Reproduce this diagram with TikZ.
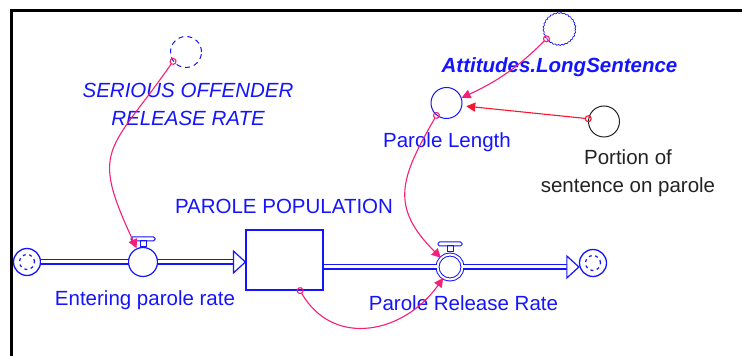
\documentclass[tikz,border=0pt]{standalone}
\usepackage{fontspec}
\setmainfont{Liberation Sans}
\usetikzlibrary{arrows.meta,decorations.pathmorphing}

\definecolor{flowblue}{RGB}{20,20,255}
\definecolor{linkpink}{RGB}{245,30,120}
\definecolor{linkred}{RGB}{250,20,45}
\definecolor{darkink}{RGB}{35,35,35}

\newcommand{\lblfont}{\fontsize{20.5}{28}\selectfont}

\tikzset{
	stock/.style={draw=flowblue, line width=1.2pt, minimum width=77pt, minimum height=60pt, inner sep=0pt},
	cloud/.style={shape=circle, draw=flowblue, line width=1.3pt, minimum size=27pt, inner sep=0pt},
	valve/.style={shape=circle, draw=flowblue, line width=1.2pt, minimum size=29pt, inner sep=0pt},
	aux/.style={shape=circle, draw=flowblue, line width=1pt, minimum size=31pt, inner sep=0pt},
	pipe/.style={draw=flowblue, line width=1.2pt, double=white, double distance=3pt},
	pipetip/.style={draw=flowblue, line width=1.2pt, fill=white, line join=miter},
	link/.style={draw=linkpink, line width=1.1pt, shorten <=-3.5pt,
		{Circle[open, length=7pt, width=7pt]}-{Triangle[length=9pt, width=9pt]}},
	lbl/.style={text=flowblue, anchor=base, inner sep=0pt, font=\lblfont, align=center}
}

\begin{document}
\begin{tikzpicture}[x=1pt, y=1pt]

	\useasboundingbox (0,0) rectangle (742,356);
	\draw[line width=3pt] (11,0) -- (11,345) -- (742,345);

	% stock and flows
	\node[cloud] (src) at (27, 94) {};
	\node[valve] (inrate) at (143, 94) {};
	\node[stock] (pop) at (284.5, 96) {};
	\node[valve, minimum size=25pt, line width=1pt, double=white, double distance=2pt] (outrate) at (450, 89) {};
	\node[cloud] (sink) at (593, 93) {};

	\draw[flowblue, line width=1.2pt, dash pattern=on 3pt off 3.5pt] (src.center) circle (7.5pt);
	\draw[flowblue, line width=1.2pt, dash pattern=on 3pt off 3.5pt] (sink.center) circle (7.5pt);

	\draw[pipe] (src) -- (inrate);
	\draw[pipe, shorten >=11pt] (inrate) -- (inrate -| pop.west);
	\draw[pipetip] (inrate -| pop.west) -- ++(-12, 11) -- ++(0, -22) -- cycle;
	\draw[pipe] (pop.east |- outrate) -- (outrate);
	\draw[pipe, shorten >=11pt] (outrate) -- (outrate -| sink.west);
	\draw[pipetip] (outrate -| sink.west) -- ++(-12, 11) -- ++(0, -22) -- cycle;

	\foreach \v/\o in {inrate/0, outrate/2} {
		\draw[flowblue, line width=1pt] ([xshift=-3pt, yshift=\o pt]\v.north) rectangle ([xshift=3pt, yshift=\o pt + 6pt]\v.north);
		\draw[flowblue, line width=1pt, rounded corners=1.5pt] ([xshift=-12pt, yshift=\o pt + 6pt]\v.north) rectangle ([xshift=12pt, yshift=\o pt + 10pt]\v.north);
	}

	% converters
	\node[aux, dash pattern=on 5pt off 4pt] (sor) at (186, 304) {};
	\node[aux, minimum size=32pt, line width=0.7pt, decorate, decoration={zigzag, segment length=3.5pt, amplitude=0.5pt}] (att) at (559.5, 327) {};
	\node[aux] (plen) at (446.5, 253) {};
	\node[aux, draw=darkink] (por) at (604, 234.5) {};

	% labels
	\node[lbl] (inlab) at (145, 50) {Entering parole rate};
	\node[lbl] (poplab) at (284, 142) {PAROLE POPULATION};
	\node[lbl] (outlab) at (463.5, 45) {Parole Release Rate};
	\node[lbl, font=\lblfont\itshape] (sorlab) at (188, 230) {SERIOUS OFFENDER\\RELEASE RATE};
	\node[lbl, font=\lblfont\bfseries\itshape] (attlab) at (559.5, 283) {Attitudes.LongSentence};
	\node[lbl] (plenlab) at (447, 208) {Parole Length};
	\node[lbl, text=darkink] (porlab) at (628, 163) {Portion of\\sentence on parole};

	% links
	\draw[link] (sor.216) to[out=235, in=115, looseness=1.5] (inrate.115);
	\draw[link] (att.217) to[bend left=10] (plen.19);
	\draw[link, draw=linkred, shorten >=4pt] (por.170) -- (plen.-10);
	\draw[link] (plen.231) to[out=240, in=135, looseness=1.3] (outrate.135);
	\draw[link] (pop.-63) to[out=300, in=235, looseness=1.2] (outrate.238);

\end{tikzpicture}
\end{document}
